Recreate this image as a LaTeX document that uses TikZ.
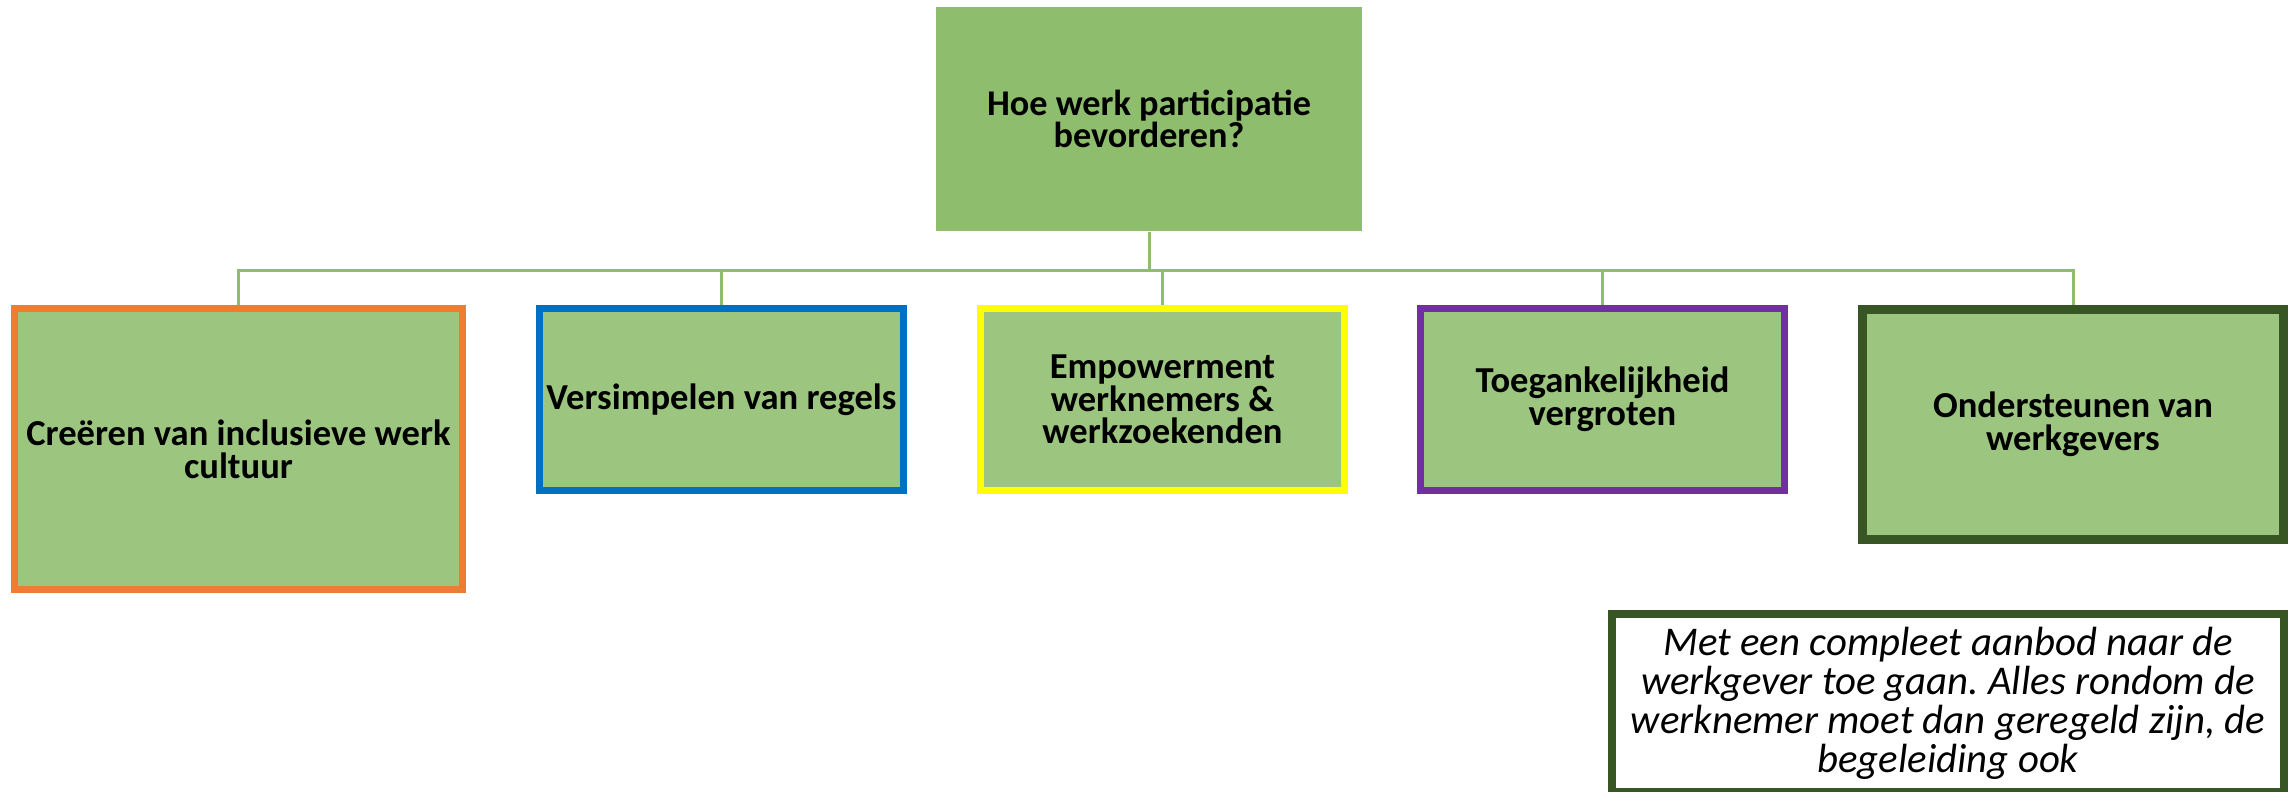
\documentclass[tikz,border=0pt]{standalone}
\usepackage{fontspec}
\setmainfont{Carlito}
\frenchspacing
\definecolor{topgreen}{HTML}{8EBD6D}
\definecolor{boxgreen}{HTML}{9CC57F}
\definecolor{linkgreen}{HTML}{8EBD6D}
\definecolor{orangeline}{HTML}{ED7D31}
\definecolor{blueline}{HTML}{0070C0}
\definecolor{yellowline}{HTML}{FFFF00}
\definecolor{purpleline}{HTML}{7030A0}
\definecolor{darkline}{HTML}{375623}
\tikzset{
  box/.style={fill=boxgreen, line width=0.07cm, align=center, inner sep=2pt,
    font=\bfseries\fontsize{10.4}{9.3}\selectfont},
  link/.style={draw=linkgreen, line width=0.03cm}
}
\begin{document}
\begin{tikzpicture}[x=0.01cm,y=-0.01cm]
    % Canvas
    \useasboundingbox (0,0) rectangle (2290,792);

    % Root
    \node[fill=topgreen, minimum width=4.26cm, minimum height=2.24cm, align=center,
      font=\bfseries\fontsize{10.3}{9.3}\selectfont] (top) at (1149,119)
      {Hoe werk participatie\\bevorderen?};

    % Branches
    \node[box, draw=orangeline, minimum width=4.48cm, minimum height=2.81cm] (cultuur) at (238.5,449)
      {Creëren van inclusieve werk\\cultuur};
    \node[box, draw=blueline, minimum width=3.64cm, minimum height=1.82cm] (regels) at (721.5,399.5)
      {Versimpelen van regels};
    \node[box, draw=yellowline, minimum width=3.64cm, minimum height=1.82cm] (empower) at (1162.5,399.5)
      {Empowerment\\werknemers \&\\werkzoekenden};
    \node[box, draw=purpleline, minimum width=3.64cm, minimum height=1.82cm] (toegang) at (1602.5,399.5)
      {Toegankelijkheid\\vergroten};
    \node[box, draw=darkline, line width=0.09cm, minimum width=4.21cm, minimum height=2.30cm] (werkgever) at (2073,424.5)
      {Ondersteunen van\\werkgevers};

    % Connectors
    \foreach \c in {cultuur,regels,empower,toegang,werkgever}
        \draw[link] (top.south) -- ++(0,39) -| (\c.north);

    % Note
    \node[draw=darkline, fill=white, line width=0.08cm, minimum width=6.72cm, minimum height=1.78cm,
      align=center, inner sep=2pt, font=\itshape\fontsize{11.6}{11.1}\selectfont] (note) at (1948,703)
      {Met een compleet aanbod naar de\\werkgever toe gaan. Alles rondom de\\werknemer moet dan geregeld zijn, de\\begeleiding ook};
\end{tikzpicture}
\end{document}
